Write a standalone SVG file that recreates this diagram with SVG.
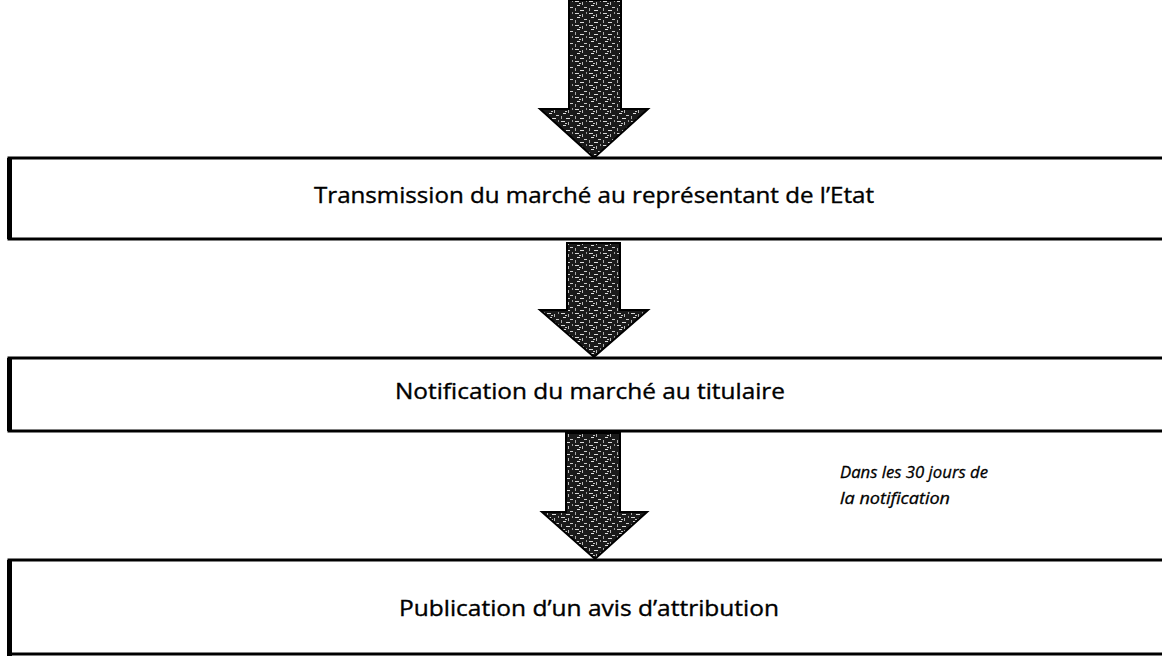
<svg xmlns="http://www.w3.org/2000/svg" width="1162" height="656" viewBox="0 0 1162 656">
  <defs>
    <pattern id="tex" width="14" height="12" patternUnits="userSpaceOnUse">
      <rect width="14" height="12" fill="#1a1a1a"/>
      <rect x="1" y="1" width="4" height="1" fill="#d8d8d8"/>
      <rect x="8" y="2" width="1" height="3" fill="#bbbbbb"/>
      <rect x="3" y="5" width="3" height="1" fill="#e0e0e0"/>
      <rect x="10" y="7" width="3" height="1" fill="#cccccc"/>
      <rect x="1" y="8" width="1" height="3" fill="#aaaaaa"/>
      <rect x="6" y="10" width="4" height="1" fill="#dddddd"/>
      <rect x="12" y="0" width="1" height="2" fill="#999999"/>
      <rect x="5" y="3" width="2" height="1" fill="#c8c8c8"/>
    </pattern>
    <style>
      .box { fill: #ffffff; stroke: #000000; stroke-width: 3; }
      .edge { fill: #000000; }
      .arrow { fill: url(#tex); stroke: #000000; stroke-width: 2; stroke-linejoin: miter; }
      .label { font-family: "Open Sans", "Liberation Sans", sans-serif; font-size: 21px; fill: #000000; stroke: #000000; stroke-width: 0.35; text-anchor: middle; }
      .note { font-family: "Open Sans", "Liberation Sans", sans-serif; font-size: 16px; font-style: italic; fill: #000000; stroke: #000000; stroke-width: 0.3; }
    </style>
  </defs>

  <g id="connectors">
    <polygon class="arrow" points="569,0 621,0 621,109 648,109 594,158 540,109 569,109"/>
    <polygon class="arrow" points="567,243 620,243 620,310 648,310 594,357 540,310 567,310"/>
    <polygon class="arrow" points="566,433 620,433 620,512 647,512 595,559 542,512 566,512"/>
  </g>

  <g id="node-transmission">
    <rect class="box" x="9" y="158" width="1160" height="81"/>
    <rect class="edge" x="7" y="158" width="5" height="81"/>
    <text class="label" x="594" y="203" textLength="560" lengthAdjust="spacingAndGlyphs">Transmission du marché au représentant de l’Etat</text>
  </g>

  <g id="node-notification">
    <rect class="box" x="9" y="358" width="1160" height="73"/>
    <rect class="edge" x="7" y="358" width="5" height="73"/>
    <text class="label" x="590" y="399" textLength="390" lengthAdjust="spacingAndGlyphs">Notification du marché au titulaire</text>
  </g>

  <g id="node-note">
    <text class="note" x="840" y="478" textLength="148" lengthAdjust="spacingAndGlyphs">Dans les 30 jours de</text>
    <text class="note" x="840" y="504" textLength="110" lengthAdjust="spacingAndGlyphs">la notification</text>
  </g>

  <g id="node-publication">
    <rect class="box" x="9" y="560" width="1160" height="94"/>
    <rect class="edge" x="7" y="560" width="5" height="96"/>
    <text class="label" x="589" y="616" textLength="380" lengthAdjust="spacingAndGlyphs">Publication d’un avis d’attribution</text>
  </g>
</svg>
